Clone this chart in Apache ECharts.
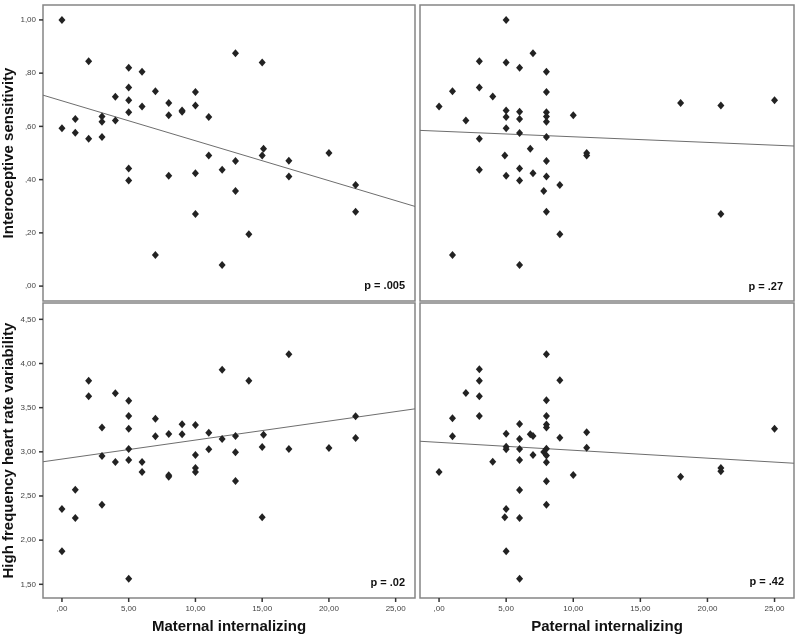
<!DOCTYPE html>
<html>
<head>
<meta charset="utf-8">
<script src="https://cdn.jsdelivr.net/npm/echarts@6/dist/echarts.min.js"></script>
<style>
html,body{margin:0;padding:0;background:#fff;}
#chart{width:800px;height:641px;}
</style>
</head>
<body>
<div id="chart"></div>
<script>
// ---------- data ----------
const xTicks = [0, 5, 10, 15, 20, 25];
const yTicksIS = [0, 0.2, 0.4, 0.6, 0.8, 1.0];
const yTicksHF = [1.5, 2.0, 2.5, 3.0, 3.5, 4.0, 4.5];

const xTitles = ['Maternal internalizing', 'Paternal internalizing'];
const yTitles = ['Interoceptive sensitivity', 'High frequency heart rate variability'];
const pLabels = ['p = .005', 'p = .27', 'p = .02', 'p = .42'];

// Interoceptive sensitivity vs maternal internalizing
const matInt_IS = [0,0,1,1,2,2,3,3,3,4,4,5,5,5,5,5,5,6,6,7,7,8,8,8,9,9,10,10,10,10,11,11,12,12,13,13,13,14,15,15,15.1,17,17,20,22,22];
const intero_mat = [1.00,0.593,0.628,0.576,0.845,0.554,0.637,0.617,0.560,0.711,0.622,0.820,0.746,0.698,0.653,0.442,0.397,0.805,0.675,0.732,0.117,0.688,0.642,0.415,0.660,0.655,0.729,0.678,0.424,0.271,0.635,0.491,0.437,0.079,0.875,0.470,0.357,0.195,0.840,0.491,0.516,0.471,0.412,0.500,0.380,0.279];

// Interoceptive sensitivity vs paternal internalizing
const patInt_IS = [5,7,3,5,6,8,1,3,8,4,0,5,6,5,6,8,8,8,10,2,5,6,8,3,6.8,4.9,11,11,8,3,6,7,5,8,6,9,7.8,8,9,1,6,18,21,25,21];
const intero_pat = [1.00,0.875,0.845,0.840,0.820,0.805,0.732,0.746,0.729,0.712,0.675,0.660,0.655,0.635,0.628,0.653,0.637,0.617,0.642,0.622,0.593,0.575,0.560,0.554,0.516,0.491,0.500,0.491,0.470,0.437,0.442,0.424,0.415,0.412,0.397,0.380,0.357,0.279,0.195,0.117,0.079,0.688,0.678,0.698,0.271];

// HF-HRV vs maternal internalizing
const matInt_HF = [0,0,1,1,2,2,3,3,3,4,4,5,5,5,5,5,5,6,6,7,7,8,8,8,9,9,10,10,10,10,11,11,12,12,13,13,13,14,15,15.1,15,17,17,20,22,22];
const hfhrv_mat = [2.353,1.874,2.572,2.251,3.806,3.628,3.274,2.953,2.402,3.662,2.885,3.579,3.406,3.262,3.032,2.908,1.564,2.885,2.772,3.375,3.175,3.202,2.734,2.719,3.311,3.198,3.304,2.964,2.817,2.772,3.217,3.028,3.930,3.145,3.179,2.994,2.670,3.806,3.055,3.194,2.258,4.104,3.032,3.043,3.402,3.157];

// HF-HRV vs paternal internalizing
const patInt_HF = [8,9,3,3,2,3,8,3,8,1,6,8,8,1,5,6.8,7,9,11,6,5,5,6,8,11,7.8,8,7,6,4,8,0,10,18,21,21,8,6,8,5,4.9,6,5,6,25];
const hfhrv_pat = [4.104,3.809,3.934,3.806,3.666,3.628,3.583,3.406,3.406,3.379,3.315,3.308,3.274,3.175,3.206,3.198,3.179,3.160,3.221,3.145,3.058,3.028,3.032,3.036,3.047,2.998,2.957,2.964,2.908,2.889,2.881,2.772,2.738,2.719,2.817,2.779,2.666,2.568,2.402,2.353,2.258,2.251,1.874,1.564,3.262];

// fit lines: [intercept, slope]
const fitTL = [0.696, -0.0150];
const fitTR = [0.582, -0.00211];
const fitBL = [2.918, 0.0215];
const fitBR = [3.107, -0.00893];

// ---------- layout / style ----------
const XMIN = -1.42, XMAX = 26.45;
const FONT = "'Liberation Sans', Arial, Helvetica, sans-serif";
const TICK_LEN = 4;
const grids = [
  {left: 43, top: 5, width: 372, height: 296},
  {left: 420, top: 5, width: 374, height: 296},
  {left: 43, top: 303, width: 372, height: 295},
  {left: 420, top: 303, width: 374, height: 295}
];
const fmt = v => {
  const s = Math.abs(v) < 1e-9 ? ',00' : (v < 1 ? ',' + v.toFixed(2).split('.')[1] : v.toFixed(2).replace('.', ','));
  return s;
};

function xAxis(i) {
  const bottom = i >= 2;
  return {
    type: 'value', gridIndex: i, min: XMIN, max: XMAX, position: 'bottom',
    splitLine: {show: false},
    axisLine: {show: false, onZero: false},
    axisTick: {show: false},
    axisLabel: {show: bottom, customValues: xTicks, formatter: fmt, fontSize: 8, color: '#444', margin: 7, fontFamily: FONT},
    name: bottom ? xTitles[i - 2] : '',
    nameLocation: 'middle', nameGap: 21,
    nameTextStyle: {fontSize: 15, fontWeight: 'bold', color: '#111', fontFamily: FONT}
  };
}
function yAxis(i) {
  const left = i % 2 === 0;
  const top = i < 2;
  return {
    type: 'value', gridIndex: i, position: 'left',
    min: top ? -0.056 : 1.345, max: top ? 1.056 : 4.685,
    splitLine: {show: false},
    axisLine: {show: false, onZero: false},
    axisTick: {show: false},
    axisLabel: {show: left, customValues: top ? yTicksIS : yTicksHF, formatter: fmt, fontSize: 8, color: '#444', margin: 7, fontFamily: FONT},
    name: left ? yTitles[top ? 0 : 1] : '',
    nameLocation: 'middle', nameGap: 25, nameRotate: 90,
    nameTextStyle: {fontSize: 15, fontWeight: 'bold', color: '#111', fontFamily: FONT}
  };
}

const scatterSets = [
  [matInt_IS, intero_mat],
  [patInt_IS, intero_pat],
  [matInt_HF, hfhrv_mat],
  [patInt_HF, hfhrv_pat]
];
const fits = [fitTL, fitTR, fitBL, fitBR];

const series = [];
scatterSets.forEach((s, i) => {
  series.push({
    type: 'scatter', xAxisIndex: i, yAxisIndex: i,
    symbol: 'diamond', symbolSize: [7, 8],
    itemStyle: {color: '#222', opacity: 1},
    data: s[0].map((x, k) => [x, s[1][k]]),
    z: 3
  });
  const f = fits[i];
  series.push({
    type: 'line', xAxisIndex: i, yAxisIndex: i,
    symbol: 'none', silent: true,
    lineStyle: {color: '#6e6e6e', width: 1},
    data: [[XMIN, f[0] + f[1] * XMIN], [XMAX, f[0] + f[1] * XMAX]],
    z: 2
  });
});

const pPos = [
  {x: 405, y: 286},
  {x: 783, y: 287},
  {x: 405, y: 583},
  {x: 784, y: 582}
];
const graphics = pLabels.map((t, i) => ({
  type: 'text',
  x: pPos[i].x, y: pPos[i].y,
  style: {text: t, align: 'right', verticalAlign: 'middle', font: 'bold 11px ' + FONT, fill: '#111'},
  z: 10
}));

const chart = echarts.init(document.getElementById('chart'), null, {renderer: 'canvas'});
chart.setOption({
  animation: false,
  backgroundColor: '#fff',
  grid: grids.map(g => Object.assign({show: true, borderColor: '#858585', borderWidth: 1.5, backgroundColor: 'transparent'}, g)),
  xAxis: [0, 1, 2, 3].map(xAxis),
  yAxis: [0, 1, 2, 3].map(yAxis),
  series: series,
  graphic: graphics
});

// axis tick marks, positioned through the axes' own scales
const tickShapes = [];
const tickStyle = {stroke: '#333', lineWidth: 1.5};
[2, 3].forEach(i => {
  const g = grids[i];
  const yb = g.top + g.height;
  xTicks.forEach(v => {
    const px = chart.convertToPixel({xAxisIndex: i}, v);
    tickShapes.push({type: 'line', shape: {x1: px, y1: yb, x2: px, y2: yb + TICK_LEN}, style: tickStyle, silent: true, z: 5});
  });
});
[0, 2].forEach(i => {
  const g = grids[i];
  const ticks = i === 0 ? yTicksIS : yTicksHF;
  ticks.forEach(v => {
    const py = chart.convertToPixel({yAxisIndex: i}, v);
    tickShapes.push({type: 'line', shape: {x1: g.left - TICK_LEN, y1: py, x2: g.left, y2: py}, style: tickStyle, silent: true, z: 5});
  });
});
chart.setOption({graphic: graphics.concat(tickShapes)}, {replaceMerge: ['graphic']});
</script>
</body>
</html>
